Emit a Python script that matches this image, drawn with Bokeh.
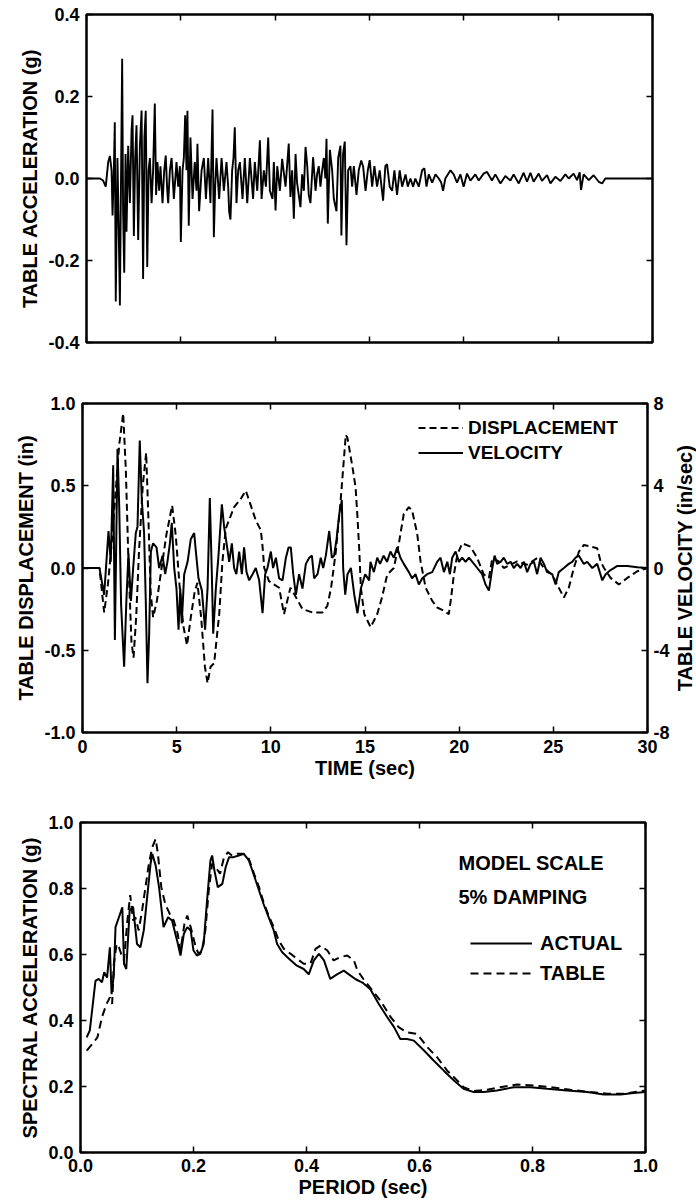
import math
from bokeh.plotting import figure
from bokeh.models import Range1d, LinearAxis, FixedTicker, Legend, LegendItem, Label
from bokeh.layouts import column, row
from bokeh.embed import file_html
from bokeh.resources import INLINE

# ---------------- data ----------------
# Table acceleration time history (sec, g)
acc_t = [0.0, 0.71, 0.88, 1.02, 1.15, 1.24, 1.33, 1.38, 1.45, 1.50, 1.55, 1.64, 1.70, 1.77, 1.84, 1.89,
         1.94, 2.00, 2.07, 2.12, 2.21, 2.30, 2.39, 2.44, 2.51, 2.58, 2.65, 2.74, 2.83, 2.92, 3.00, 3.07,
         3.14, 3.22, 3.29, 3.36, 3.45, 3.53, 3.62, 3.69, 3.76, 3.85, 3.92, 4.03, 4.12, 4.20, 4.28, 4.33,
         4.42, 4.51, 4.63, 4.77, 4.86, 4.95, 5.00, 5.09, 5.16, 5.23, 5.30, 5.35, 5.42, 5.51, 5.62, 5.74,
         5.83, 5.88, 5.97, 6.10, 6.22, 6.33, 6.45, 6.57, 6.68, 6.75, 6.82, 6.89, 7.03, 7.16, 7.28, 7.42,
         7.51, 7.56, 7.63, 7.72, 7.79, 7.86, 7.95, 8.04, 8.13, 8.27, 8.39, 8.52, 8.66, 8.83, 8.92, 9.05,
         9.19, 9.28, 9.40, 9.51, 9.63, 9.72, 9.86, 9.93, 10.02, 10.11, 10.25, 10.37, 10.55, 10.72, 10.81,
         10.90, 10.99, 11.08, 11.16, 11.25, 11.34, 11.43, 11.52, 11.61, 11.70, 11.78, 11.87, 12.01, 12.14,
         12.22, 12.31, 12.40, 12.49, 12.58, 12.66, 12.72, 12.79, 12.90, 13.02, 13.11, 13.25, 13.34, 13.46,
         13.51, 13.60, 13.69, 13.78, 13.87, 13.99, 14.08, 14.17, 14.31, 14.43, 14.56, 14.66, 14.79, 14.91,
         15.01, 15.14, 15.26, 15.40, 15.54, 15.72, 15.84, 15.93, 16.07, 16.20, 16.32, 16.46, 16.60, 16.73,
         16.91, 17.03, 17.17, 17.31, 17.43, 17.61, 17.79, 17.91, 18.02, 18.14, 18.32, 18.50, 18.67, 18.80,
         18.90, 19.02, 19.29, 19.46, 19.64, 19.82, 19.99, 20.17, 20.35, 20.61, 20.79, 21.05, 21.23, 21.49,
         21.67, 21.94, 22.20, 22.47, 22.64, 22.91, 23.17, 23.35, 23.53, 23.70, 23.97, 24.14, 24.41, 24.59,
         24.85, 25.12, 25.38, 25.56, 25.82, 26.00, 26.14, 26.21, 26.35, 26.62, 26.88, 27.15, 27.33, 27.50,
         29.71, 30.0]
acc_g = [0.0, 0.0, -0.005, -0.02, 0.04, 0.055, 0.02, -0.09, 0.02, 0.137, -0.30, 0.05, -0.10, -0.31, 0.05, 0.292,
         -0.08, -0.23, 0.06, -0.13, 0.08, -0.06, 0.12, 0.154, -0.14, 0.05, 0.13, -0.15, 0.08, 0.166, -0.245, 0.10,
         0.165, -0.216, 0.02, 0.05, -0.06, 0.02, 0.183, -0.04, 0.04, -0.03, 0.03, -0.06, 0.02, 0.056, -0.03, -0.06,
         0.02, 0.05, -0.05, 0.04, -0.02, 0.03, -0.155, 0.02, 0.05, 0.154, 0.02, 0.165, -0.115, 0.10, -0.05, 0.04,
         -0.03, 0.085, -0.08, 0.02, 0.05, -0.05, 0.05, -0.06, 0.168, -0.143, -0.02, 0.05, -0.05, 0.05, -0.03, 0.04,
         -0.02, -0.08, -0.10, 0.02, 0.05, 0.125, -0.06, 0.02, 0.04, -0.05, 0.05, -0.06, 0.05, -0.05, 0.04, -0.03,
         0.093, -0.05, 0.02, -0.02, 0.10, -0.03, -0.05, 0.04, -0.078, 0.03, -0.03, 0.048, -0.02, 0.085, -0.045,
         0.02, -0.098, 0.06, -0.01, -0.04, -0.07, 0.01, -0.03, 0.077, 0.03, -0.04, -0.06, 0.052, -0.03,
         0.01, 0.03, -0.02, 0.02, 0.05, 0.0, 0.097, -0.11, 0.07, 0.02, -0.05, -0.08, 0.05, 0.08,
         -0.139, 0.06, 0.09, -0.163, 0.02, 0.03, -0.02, 0.03, -0.04, 0.02, 0.044, 0.03, -0.03, 0.02,
         0.045, -0.02, 0.03, -0.02, 0.02, -0.054, 0.03, 0.035, -0.02, -0.03, 0.02, -0.04, 0.02, -0.02,
         0.01, -0.02, 0.0, -0.02, 0.0, -0.02, 0.02, 0.025, -0.02, 0.01, -0.01, 0.01, 0.0, -0.01,
         -0.03, 0.0, 0.02, 0.01, -0.01, 0.01, -0.02, 0.012, -0.005, 0.01, -0.005, 0.012, 0.016, -0.005,
         0.01, -0.012, 0.006, -0.005, 0.01, -0.012, 0.014, -0.008, 0.014, -0.008, 0.012, -0.006, 0.008, -0.012,
         0.004, -0.006, 0.01, 0.0, 0.012, -0.004, 0.015, -0.028, 0.01, -0.004, 0.008, -0.008, -0.012, 0.0,
         0.0, 0.0]

# Table displacement (sec, in)
disp_t = [0.0, 0.9, 1.15, 1.35, 1.55, 1.75, 1.95, 2.16, 2.3, 2.45, 2.6, 2.71, 2.85, 3.0, 3.2, 3.38, 3.5, 3.62,
          3.75, 3.95, 4.2, 4.45, 4.76, 4.95, 5.15, 5.35, 5.55, 5.75, 5.95, 6.1, 6.3, 6.5, 6.64, 6.8, 6.99, 7.15,
          7.26, 7.43, 7.61, 8.05, 8.4, 8.67, 8.85, 9.2, 9.47, 9.56, 9.65, 9.9, 10.44, 10.7, 11.04, 11.2, 11.68,
          12.2, 12.74, 13.0, 13.2, 13.45, 13.7, 13.98, 14.07, 14.34, 14.5, 14.6, 14.7, 14.78, 14.96, 15.3, 15.65,
          15.9, 16.18, 16.53, 16.8, 17.06, 17.33, 17.5, 17.77, 17.95, 18.22, 18.57, 18.83, 19.19, 19.45, 19.55,
          19.72, 19.9, 20.16, 20.6, 20.96, 21.31, 21.58, 21.76, 22.1, 22.37, 22.72, 23.08, 23.61, 24.14, 24.5,
          24.94, 25.2, 25.56, 25.82, 26.09, 26.36, 26.62, 26.98, 27.33, 27.51, 27.69, 28.04, 28.48, 28.93,
          29.46, 30.0]
disp_in = [0.0, 0.0, -0.27, -0.10, 0.15, 0.45, 0.75, 0.94, 0.6, 0.0, -0.45, -0.545, -0.3, 0.1, 0.5, 0.70, 0.3, -0.15,
           -0.3, -0.2, 0.0, 0.2, 0.38, 0.2, -0.1, -0.35, -0.47, -0.3, -0.15, -0.09, -0.3, -0.6, -0.70, -0.6, -0.58, -0.4,
           -0.28, 0.04, 0.24, 0.37, 0.42, 0.47, 0.41, 0.29, 0.23, 0.13, 0.0, -0.08, -0.12, -0.28, -0.12, -0.15, -0.25,
           -0.27, -0.27, -0.23, -0.12, 0.10, 0.40, 0.81, 0.79, 0.61, 0.49, 0.31, 0.10, -0.12, -0.28, -0.36, -0.28,
           -0.18, -0.04, 0.0, 0.15, 0.33, 0.37, 0.35, 0.21, 0.04, -0.12, -0.20, -0.24, -0.26, -0.28, -0.2,
           -0.04, 0.08, 0.15, 0.13, 0.06, -0.04, -0.06, 0.06, 0.04, 0.0, 0.02, 0.04, 0.02, 0.06, 0.0,
           -0.04, -0.10, -0.18, -0.12, 0.0, 0.10, 0.14, 0.13, 0.12, 0.04, 0.0, -0.06, -0.10, -0.06,
           -0.02, 0.0]

# Table velocity (sec, in/sec)
vel_t = [0.0, 0.9, 1.15, 1.38, 1.5, 1.63, 1.72, 1.86, 1.95, 2.05, 2.21, 2.33, 2.44, 2.57, 2.69, 2.83, 2.92, 3.04,
         3.15, 3.27, 3.36, 3.45, 3.54, 3.63, 3.75, 3.93, 4.07, 4.25, 4.39, 4.51, 4.64, 4.74, 4.87, 4.99, 5.1, 5.19,
         5.27, 5.4, 5.58, 5.75, 5.93, 6.02, 6.16, 6.34, 6.51, 6.64, 6.76, 6.86, 6.94, 7.08, 7.22, 7.4, 7.52, 7.65,
         7.79, 7.93, 8.05, 8.17, 8.32, 8.46, 8.58, 8.71, 8.85, 9.03, 9.2, 9.38, 9.56, 9.7, 9.82, 10.0, 10.12,
         10.27, 10.44, 10.62, 10.8, 10.94, 11.06, 11.19, 11.33, 11.5, 11.68, 11.86, 12.04, 12.18, 12.3, 12.48,
         12.65, 12.78, 12.92, 13.1, 13.24, 13.36, 13.49, 13.63, 13.77, 13.84, 13.95, 14.07, 14.25, 14.43, 14.6,
         14.78, 15.01, 15.22, 15.29, 15.47, 15.65, 15.8, 15.99, 16.17, 16.35, 16.53, 16.71, 16.88, 17.06, 17.33,
         17.5, 17.68, 17.86, 18.04, 18.3, 18.57, 18.83, 19.01, 19.19, 19.37, 19.51, 19.63, 19.81, 19.99, 20.16,
         20.34, 20.52, 20.7, 20.96, 21.22, 21.4, 21.58, 21.76, 21.88, 22.02, 22.2, 22.37, 22.55, 22.73, 22.9,
         23.08, 23.26, 23.44, 23.61, 23.79, 23.97, 24.14, 24.32, 24.5, 24.67, 24.94, 25.12, 25.29, 25.56, 25.82,
         26.0, 26.18, 26.36, 26.62, 26.8, 27.07, 27.33, 27.6, 27.78, 28.04, 28.4, 28.93, 29.46, 30.0]
vel_ins = [0.0, 0.0, -1.3, 1.8, 0.3, 5.0, -3.5, 5.8, 3.0, -1.8, -4.8, -1.6, 0.7, -1.6, 0.0, 1.7, 2.0, 6.2,
           3.3, 1.7, -1.6, -5.6, -3.2, 0.8, 1.2, 1.0, 0.0, 0.6, -0.3, 0.3, 1.2, 2.2, 0.0, -1.0, -3.0, -1.0,
           -2.7, -0.3, 0.3, 1.4, 1.7, 0.8, -0.5, -1.1, -3.0, -1.0, 3.4, 0.0, -3.2, -1.0, 0.6, 3.1, 2.0, 1.2,
           0.3, 1.2, 0.0, -0.3, 0.8, -0.3, 1.0, -0.2, -0.6, -0.3, 0.0, -0.6, -2.2, -0.3, 0.0, 0.8, 0.0,
           0.5, -0.5, -0.6, 0.5, 1.0, 1.0, -0.3, -1.3, -0.3, -1.0, 0.2, 0.5, 0.6, -0.5, -0.3,
           0.5, 0.0, 0.6, 1.8, 0.5, 0.6, 1.4, 2.6, 3.3, 0.0, -1.3, -0.3, 0.0, -1.3, -2.2,
           -1.0, -0.3, -0.6, 0.3, -0.2, 0.5, 0.2, 0.6, 0.3, 0.8, 0.5, 1.0, 0.5, 0.2, -0.2,
           -0.5, -0.3, -0.8, -0.5, -0.3, -0.2, 0.3, 0.5, -0.2, 0.3, -0.3, 0.5, 0.8, 0.3, 0.5,
           0.3, 0.5, 0.3, 0.0, -0.3, -0.8, -1.1, 0.0, 0.6, 0.2, 0.3, 0.5, 0.2, 0.3, 0.0,
           0.2, 0.0, 0.3, -0.2, 0.2, 0.3, -0.3, 0.5, 0.2, -0.2, -0.3, -0.8, -0.2, 0.0, 0.2,
           0.3, 0.5, 0.6, 0.2, 0.3, 0.0, 0.2, -0.6, -0.3, -0.1, 0.1, 0.1, 0.04, 0.0]

# Response spectra, 5% damping (sec, g)
act_period = [0.011, 0.0165, 0.0265, 0.032, 0.038, 0.042, 0.047, 0.052, 0.055, 0.059, 0.062, 0.068, 0.074, 0.077,
              0.081, 0.087, 0.093, 0.100, 0.106, 0.112, 0.118, 0.124, 0.127, 0.133, 0.139, 0.147, 0.155, 0.162,
              0.171, 0.177, 0.183, 0.189, 0.195, 0.200, 0.206, 0.212, 0.218, 0.224, 0.230, 0.233, 0.237, 0.243,
              0.251, 0.257, 0.263, 0.271, 0.280, 0.289, 0.298, 0.307, 0.316, 0.324, 0.333, 0.342, 0.348, 0.357,
              0.369, 0.383, 0.395, 0.404, 0.413, 0.422, 0.431, 0.442, 0.454, 0.466, 0.478, 0.487, 0.499, 0.513,
              0.528, 0.543, 0.555, 0.566, 0.578, 0.590, 0.608, 0.625, 0.643, 0.661, 0.678, 0.696, 0.714, 0.737,
              0.767, 0.796, 0.826, 0.861, 0.897, 0.926, 0.956, 0.979, 1.0]
act_sa = [0.349, 0.37, 0.52, 0.526, 0.516, 0.546, 0.53, 0.622, 0.48, 0.54, 0.683, 0.713, 0.743, 0.572,
          0.556, 0.733, 0.745, 0.632, 0.622, 0.673, 0.774, 0.875, 0.905, 0.87, 0.804, 0.683, 0.713, 0.703,
          0.642, 0.597, 0.663, 0.683, 0.673, 0.612, 0.597, 0.602, 0.632, 0.764, 0.885, 0.90, 0.855, 0.804,
          0.814, 0.865, 0.895, 0.895, 0.90, 0.905, 0.885, 0.84, 0.794, 0.753, 0.713, 0.673, 0.632, 0.607,
          0.587, 0.566, 0.556, 0.54, 0.582, 0.602, 0.582, 0.526, 0.54, 0.551, 0.536, 0.525, 0.515, 0.495,
          0.45, 0.41, 0.38, 0.344, 0.344, 0.339, 0.309, 0.279, 0.248, 0.218, 0.193, 0.183, 0.183, 0.188,
          0.198, 0.198, 0.193, 0.188, 0.183, 0.176, 0.176, 0.18, 0.183]
tab_period = [0.011, 0.021, 0.030, 0.038, 0.046, 0.052, 0.056, 0.059, 0.064, 0.068, 0.072, 0.077, 0.083, 0.088,
              0.093, 0.097, 0.103, 0.109, 0.115, 0.121, 0.127, 0.133, 0.137, 0.143, 0.150, 0.158, 0.165, 0.172,
              0.177, 0.184, 0.189, 0.195, 0.204, 0.209, 0.215, 0.221, 0.227, 0.233, 0.239, 0.247, 0.254, 0.261,
              0.268, 0.277, 0.289, 0.298, 0.307, 0.316, 0.324, 0.333, 0.342, 0.351, 0.360, 0.372, 0.383, 0.395,
              0.407, 0.416, 0.425, 0.437, 0.448, 0.460, 0.472, 0.484, 0.490, 0.501, 0.531, 0.549, 0.563, 0.578,
              0.596, 0.614, 0.631, 0.649, 0.664, 0.678, 0.696, 0.720, 0.743, 0.773, 0.802, 0.832, 0.867, 0.903,
              0.932, 0.961, 1.0]
tab_sa = [0.309, 0.329, 0.349, 0.41, 0.45, 0.47, 0.45, 0.572, 0.632, 0.622, 0.602, 0.582, 0.703, 0.78,
          0.703, 0.713, 0.673, 0.733, 0.804, 0.875, 0.925, 0.95, 0.905, 0.804, 0.753, 0.723, 0.703, 0.663,
          0.612, 0.693, 0.718, 0.683, 0.622, 0.602, 0.612, 0.673, 0.794, 0.875, 0.865, 0.845, 0.895, 0.91,
          0.90, 0.905, 0.905, 0.89, 0.845, 0.804, 0.759, 0.718, 0.683, 0.642, 0.617, 0.602, 0.587, 0.572,
          0.572, 0.617, 0.627, 0.612, 0.582, 0.592, 0.597, 0.582, 0.552, 0.525, 0.46, 0.41, 0.38, 0.364,
          0.359, 0.319, 0.289, 0.248, 0.223, 0.198, 0.186, 0.19, 0.198, 0.206, 0.203, 0.198, 0.19, 0.183,
          0.178, 0.178, 0.188]

# ticks and tick labels
time_ticks = [0, 5, 10, 15, 20, 25, 30]
time_labels = ["0", "5", "10", "15", "20", "25", "30"]
acc_ticks = [-0.4, -0.2, 0.0, 0.2, 0.4]
acc_labels = ["-0.4", "-0.2", "0.0", "0.2", "0.4"]
disp_ticks = [-1.0, -0.5, 0.0, 0.5, 1.0]
disp_labels = ["-1.0", "-0.5", "0.0", "0.5", "1.0"]
vel_ticks = [-8, -4, 0, 4, 8]
vel_labels = ["-8", "-4", "0", "4", "8"]
per_ticks = [0.0, 0.2, 0.4, 0.6, 0.8, 1.0]
per_labels = ["0.0", "0.2", "0.4", "0.6", "0.8", "1.0"]
sa_ticks = [0.0, 0.2, 0.4, 0.6, 0.8, 1.0]
sa_labels = ["0.0", "0.2", "0.4", "0.6", "0.8", "1.0"]

# ---------------- styling helpers ----------------
FONT = "Liberation Sans"
TICK_PX = "18px"
LABEL_PX = "20px"


def style_axis(ax, ticks, labels, show=True):
    ax.ticker = FixedTicker(ticks=ticks)
    if show:
        ax.major_label_overrides = {t: l for t, l in zip(ticks, labels)}
    else:
        ax.major_label_overrides = {t: "" for t in ticks}
    ax.major_tick_in = 6
    ax.major_tick_out = 0
    ax.major_tick_line_width = 1.5
    ax.major_tick_line_color = "black"
    ax.minor_tick_line_color = None
    ax.axis_line_color = None
    ax.major_label_standoff = 7
    ax.major_label_text_font = FONT
    ax.major_label_text_font_style = "bold"
    ax.major_label_text_font_size = TICK_PX
    ax.major_label_text_color = "black"
    ax.axis_label_text_font = FONT
    ax.axis_label_text_font_style = "bold"
    ax.axis_label_text_font_size = LABEL_PX
    ax.axis_label_text_color = "black"
    ax.axis_label_standoff = 4


def make_fig(w, h, xr, yr, ml, mr, mt, mb):
    p = figure(width=w, height=h, x_range=Range1d(*xr), y_range=Range1d(*yr),
               output_backend="svg", toolbar_location=None,
               min_border_left=ml, min_border_right=mr, min_border_top=mt, min_border_bottom=mb)
    p.grid.visible = False
    p.outline_line_color = "black"
    p.outline_line_width = 2.5
    p.background_fill_color = "white"
    p.border_fill_color = "white"
    return p


def style_legend(leg, size, gw, rh, standoff):
    leg.border_line_color = None
    leg.background_fill_alpha = 0
    leg.label_text_font = FONT
    leg.label_text_font_style = "bold"
    leg.label_text_font_size = size
    leg.label_text_color = "black"
    leg.glyph_width = gw
    leg.glyph_height = rh
    leg.label_height = rh
    leg.label_standoff = standoff
    leg.spacing = 0
    leg.padding = 0
    leg.margin = 0


# ---------------- panel 1: acceleration ----------------
p1 = make_fig(696, 372, (0, 30), (-0.4, 0.4), 86, 44, 14, 30)
p1.line(acc_t, acc_g, line_color="black", line_width=1.9)
style_axis(p1.xaxis[0], time_ticks, time_labels, show=False)
style_axis(p1.yaxis[0], acc_ticks, acc_labels)
p1.yaxis[0].axis_label = "TABLE ACCELERATION (g)"
top1 = LinearAxis(); style_axis(top1, time_ticks, time_labels, show=False); p1.add_layout(top1, "above")
right1 = LinearAxis(); style_axis(right1, acc_ticks, acc_labels, show=False); p1.add_layout(right1, "right")

# ---------------- panel 2: displacement & velocity ----------------
p2 = make_fig(672, 418, (0, 30), (-1.0, 1.0), 82, 25, 31, 58)
p2.extra_y_ranges = {"vel": Range1d(-8, 8)}
r_disp = p2.line(disp_t, disp_in, line_color="black", line_width=2, line_dash="7 4")
r_vel = p2.line(vel_t, vel_ins, line_color="black", line_width=2, y_range_name="vel")
style_axis(p2.xaxis[0], time_ticks, time_labels)
p2.xaxis[0].axis_label = "TIME (sec)"
p2.xaxis[0].axis_label_standoff = 1
style_axis(p2.yaxis[0], disp_ticks, disp_labels)
p2.yaxis[0].axis_label = "TABLE DISPLACEMENT (in)"
top2 = LinearAxis(); style_axis(top2, time_ticks, time_labels, show=False); p2.add_layout(top2, "above")
right2 = LinearAxis(y_range_name="vel")
style_axis(right2, vel_ticks, vel_labels)
right2.major_label_standoff = 6
p2.add_layout(right2, "right")
leg2 = Legend(items=[LegendItem(label="DISPLACEMENT", renderers=[r_disp]),
                     LegendItem(label="VELOCITY", renderers=[r_vel])],
              location=(336, 267))
style_legend(leg2, "19px", 45, 25, 5)
p2.add_layout(leg2)

# narrow strip holding the right-hand axis title, reading bottom-to-top
p2t = figure(width=24, height=418, x_range=Range1d(-1, 1), y_range=Range1d(-1, 1),
             output_backend="svg", toolbar_location=None, x_axis_type=None, y_axis_type=None,
             min_border_left=0, min_border_right=0, min_border_top=31, min_border_bottom=58)
p2t.grid.visible = False
p2t.outline_line_color = None
p2t.background_fill_color = "white"
p2t.border_fill_color = "white"
p2t.add_layout(Label(x=0, y=0, text="TABLE VELOCITY (in/sec)", angle=math.pi / 2,
                     text_align="center", text_baseline="middle", text_font=FONT,
                     text_font_style="bold", text_font_size=LABEL_PX, text_color="black"))

# ---------------- panel 3: spectra ----------------
p3 = make_fig(696, 412, (0, 1.0), (0, 1.0), 80, 51, 32, 50)
r_act = p3.line(act_period, act_sa, line_color="black", line_width=2)
r_tab = p3.line(tab_period, tab_sa, line_color="black", line_width=2, line_dash="8 5")
style_axis(p3.xaxis[0], per_ticks, per_labels)
p3.xaxis[0].axis_label = "PERIOD (sec)"
p3.xaxis[0].axis_label_standoff = 1
p3.xaxis[0].major_label_standoff = 6
style_axis(p3.yaxis[0], sa_ticks, sa_labels)
p3.yaxis[0].axis_label = "SPECTRAL ACCELERATION (g)"
top3 = LinearAxis(); style_axis(top3, per_ticks, per_labels, show=False); p3.add_layout(top3, "above")
right3 = LinearAxis(); style_axis(right3, sa_ticks, sa_labels, show=False); p3.add_layout(right3, "right")
for txt, yv in (("MODEL SCALE", 0.876), ("5% DAMPING", 0.773)):
    p3.add_layout(Label(x=0.669, y=yv, text=txt, text_baseline="middle", text_align="left",
                        text_font=FONT, text_font_style="bold", text_font_size="20px",
                        text_color="black"))
leg3 = Legend(items=[LegendItem(label="ACTUAL", renderers=[r_act]),
                     LegendItem(label="TABLE", renderers=[r_tab])],
              location=(390, 164))
style_legend(leg3, "20px", 62, 30, 8)
p3.add_layout(leg3)

# each panel in its own row so the frames keep their own left/right edges
layout = column(row(p1), row(p2, p2t), row(p3))
open("out.html", "w").write(file_html(layout, INLINE))
